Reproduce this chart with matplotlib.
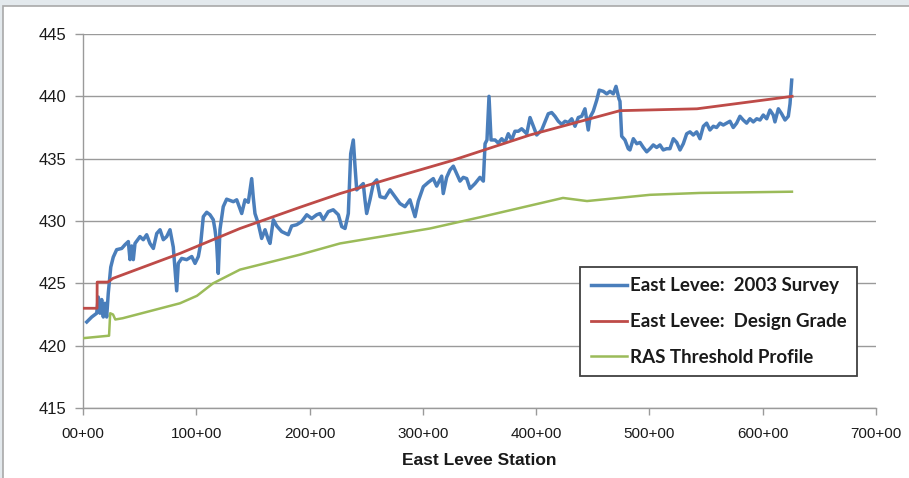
import matplotlib
matplotlib.use("Agg")
import matplotlib.pyplot as plt
from matplotlib.patches import Rectangle

# ---------------- data ----------------
survey_station = [3.3, 7.7, 12.1, 13.5, 15.0, 16.5, 17.9, 19.4, 20.9, 22.3, 24.5, 26.7, 29.7, 34.2,
                  37.1, 40.0, 41.5, 43.0, 44.4, 45.9, 50.3, 53.2, 56.2, 59.1, 62.1, 65.1, 68.0, 70.9,
                  73.9, 76.8, 79.7, 81.2, 82.7, 84.1, 87.1, 91.5, 96.0, 98.9, 101.8, 103.9, 106.2,
                  109.2, 112.1, 115.0, 116.5, 118.0, 119.4, 120.9, 123.8, 126.8, 132.7, 135.7, 140.1,
                  143.0, 145.9, 148.9, 150.3, 151.8, 154.7, 157.7, 160.7, 163.6, 165.1, 168.0, 171.0,
                  175.4, 181.2, 184.2, 188.6, 193.0, 197.5, 201.9, 206.3, 209.2, 212.1, 216.5, 220.9,
                  225.4, 228.4, 231.3, 234.2, 236.3, 238.6, 240.1, 241.6, 244.5, 247.4, 248.9, 250.4,
                  253.3, 256.3, 259.3, 262.2, 266.6, 271.0, 275.4, 279.8, 284.2, 288.6, 293.1, 296.0,
                  300.4, 304.8, 309.2, 312.2, 316.6, 318.0, 321.0, 324.0, 326.9, 329.9, 332.8, 335.7,
                  338.7, 341.6, 346.0, 350.4, 353.4, 354.9, 356.6, 358.4, 360.2, 363.7, 366.6, 369.6,
                  372.5, 375.4, 378.4, 381.3, 384.3, 387.2, 391.7, 394.6, 397.5, 400.5, 404.9, 407.8,
                  410.7, 413.7, 416.6, 419.6, 422.6, 425.5, 428.4, 431.4, 434.3, 437.2, 440.2, 443.1,
                  446.0, 447.5, 450.4, 453.5, 455.7, 459.3, 462.3, 465.2, 468.1, 470.5, 473.1, 474.0,
                  475.5, 478.4, 481.3, 482.8, 485.8, 488.8, 491.7, 494.6, 497.6, 500.5, 503.4, 506.4,
                  509.3, 512.2, 515.2, 518.1, 521.1, 524.1, 527.0, 529.9, 532.9, 535.8, 538.7, 541.7,
                  544.6, 547.6, 550.5, 553.4, 556.4, 559.3, 562.3, 565.2, 568.2, 571.1, 574.0, 577.0,
                  579.9, 582.8, 585.8, 588.7, 591.7, 594.7, 597.6, 600.5, 603.5, 606.4, 609.3, 610.8,
                  613.8, 616.7, 619.7, 622.6, 624.1, 625.6]
survey_elev = [421.9, 422.3, 422.6, 423.9, 422.6, 423.7, 422.3, 423.4, 422.3, 424.2, 426.3, 427.1, 427.7,
               427.8, 428.1, 428.35, 426.9, 428.0, 426.9, 428.2, 428.75, 428.5, 428.9, 428.2, 427.8,
               429.0, 429.3, 428.5, 428.75, 429.3, 427.9, 426.1, 424.4, 426.6, 427.0, 426.9, 427.15,
               426.6, 427.15, 428.2, 430.35, 430.7, 430.5, 430.1, 429.3, 428.2, 425.8, 429.3, 431.15,
               431.75, 431.55, 431.7, 430.6, 431.7, 431.5, 433.4, 431.9, 430.6, 429.8, 428.6, 429.3,
               428.5, 428.2, 430.1, 429.6, 429.15, 428.9, 429.6, 429.7, 429.95, 430.5, 430.2, 430.5,
               430.6, 430.1, 430.75, 430.9, 430.5, 429.55, 429.4, 430.6, 435.4, 436.5, 434.4, 432.5,
               432.75, 433.0, 431.7, 430.6, 431.7, 433.0, 433.3, 431.95, 431.85, 432.5, 431.95, 431.4,
               431.15, 431.7, 430.35, 431.6, 432.75, 433.1, 433.4, 432.8, 433.6, 432.2, 433.5, 434.1,
               434.4, 433.8, 433.2, 433.5, 433.4, 432.6, 433.0, 433.5, 433.2, 436.2, 436.5, 440.0,
               436.5, 436.5, 436.25, 436.6, 436.3, 437.0, 436.5, 437.2, 437.2, 437.4, 437.0, 438.3,
               437.6, 436.9, 437.3, 437.95, 438.6, 438.7, 438.4, 438.0, 437.75, 438.0, 437.9, 438.2,
               437.6, 438.3, 438.4, 439.0, 437.3, 438.3, 438.8, 439.7, 440.5, 440.4, 440.2, 440.4,
               440.2, 440.8, 439.8, 439.6, 436.8, 436.5, 435.8, 435.7, 436.6, 436.2, 436.3, 435.9,
               435.55, 435.8, 436.1, 435.9, 436.1, 435.7, 435.8, 435.8, 436.6, 436.3, 435.7, 436.2,
               437.0, 437.15, 436.9, 437.15, 436.6, 437.6, 437.85, 437.3, 437.6, 437.5, 437.85, 437.7,
               437.85, 438.0, 437.5, 437.85, 438.4, 438.1, 437.85, 438.2, 437.95, 438.2, 438.1, 438.5,
               438.2, 438.9, 438.5, 437.95, 439.0, 438.6, 438.1, 438.4, 439.4, 441.3]

design_station = [0, 12.4, 12.5, 22, 26.5, 85.6, 138.6, 191.5, 226.9, 271, 324, 394.6, 474, 542, 626]
design_elev = [423.0, 423.0, 425.1, 425.1, 425.4, 427.4, 429.4, 431.1, 432.2, 433.4, 434.8, 436.9,
               438.85, 439.0, 440.0]

ras_station = [0, 23, 24, 26.5, 28.5, 35, 85.6, 100.6, 114.8, 138.6, 191.5, 226.9, 306.3, 350.4,
               423.7, 444.9, 500.5, 544.6, 625.8]
ras_elev = [420.6, 420.8, 422.6, 422.5, 422.1, 422.2, 423.4, 424.0, 425.0, 426.1, 427.3, 428.2,
            429.4, 430.3, 431.85, 431.6, 432.1, 432.25, 432.35]

series_labels = ["East Levee:  2003 Survey", "East Levee:  Design Grade", "RAS Threshold Profile"]
x_ticks = [0, 100, 200, 300, 400, 500, 600, 700]
x_tick_labels = ["00+00", "100+00", "200+00", "300+00", "400+00", "500+00", "600+00", "700+00"]
y_ticks = [415, 420, 425, 430, 435, 440, 445]
x_label = "East Levee Station"

# ---------------- figure ----------------
W, H = 909, 478
fig = plt.figure(figsize=(W / 100, H / 100), dpi=100)
fig.patch.set_facecolor("#e3e9ed")
panel = Rectangle((3 / W, -0.01), 1.0, (H - 6) / H + 0.01, transform=fig.transFigure,
                  facecolor="white", edgecolor="#a9a9a9", linewidth=1.2, zorder=-10)
fig.add_artist(panel)

ax = fig.add_axes([83 / W, (H - 408) / H, (876 - 83) / W, (408 - 34) / H])
ax.set_facecolor("none")
ax.set_zorder(1)

tickfont = ["Liberation Sans", "DejaVu Sans"]
legfont = ["Lato", "DejaVu Sans"]

l1, = ax.plot(survey_station, survey_elev, color="#4a7ebb", lw=2.5, solid_joinstyle="round", zorder=3)
l2, = ax.plot(design_station, design_elev, color="#be4b48", lw=2.0, zorder=4)
l3, = ax.plot(ras_station, ras_elev, color="#9bbb59", lw=1.8, zorder=5)

ax.set_xlim(0, 700)
ax.set_ylim(415, 445)
ax.set_xticks(x_ticks)
ax.set_xticklabels(x_tick_labels, fontfamily=tickfont, fontsize=11, color="#1a1a1a")
ax.set_yticks(y_ticks)
ax.set_yticklabels([str(v) for v in y_ticks], fontfamily=tickfont, fontsize=12, color="#1a1a1a")
ax.tick_params(axis="y", length=6, width=1, color="#9a9a9a", pad=6)
ax.tick_params(axis="x", length=5, width=1, color="#9a9a9a", pad=9)

ax.grid(axis="y", color="#9a9a9a", linewidth=1.0)
ax.set_axisbelow(True)
for s in ["top", "right"]:
    ax.spines[s].set_visible(False)
for s in ["left", "bottom"]:
    ax.spines[s].set_color("#9a9a9a")
    ax.spines[s].set_linewidth(1.0)

ax.set_xlabel(x_label, fontfamily=tickfont, fontsize=12.5, fontweight="bold", color="#1a1a1a",
              labelpad=8)

leg = ax.legend([l1, l2, l3], series_labels, loc="upper left", bbox_to_anchor=(0.627, 0.377),
                borderaxespad=0, frameon=True, fancybox=False, framealpha=1,
                edgecolor="#404040", handlelength=1.95, handletextpad=0.15, labelspacing=1.0,
                borderpad=0.55, prop={"family": legfont, "size": 13.5, "weight": "bold"})
leg.get_frame().set_linewidth(1.3)
for t in leg.get_texts():
    t.set_color("#1a1a1a")

fig.savefig("out.png", dpi=100, facecolor=fig.get_facecolor())
